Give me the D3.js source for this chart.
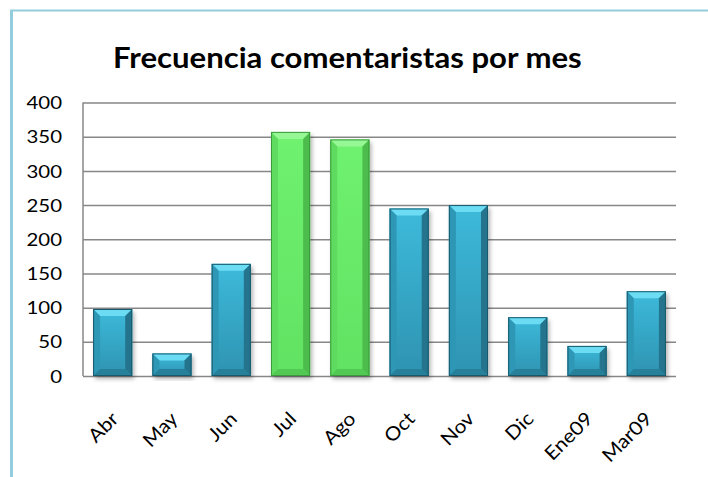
<!DOCTYPE html>
<html lang="es">
<head>
<meta charset="utf-8">
<script src="https://d3js.org/d3.v7.min.js"></script>
<style>
  body { margin: 0; background: #fff; }
  svg { display: block; }
  text { font-family: Lato, "Open Sans", sans-serif; fill: #000; }
</style>
</head>
<body>
<svg id="chart"></svg>
<script>
  const months = ["Abr", "May", "Jun", "Jul", "Ago", "Oct", "Nov", "Dic", "Ene09", "Mar09"];
  const counts = [98, 33, 164, 357, 346, 245, 250, 86, 44, 124];
  const yTicks = [0, 50, 100, 150, 200, 250, 300, 350, 400];
  const highlighted = ["Jul", "Ago"];

  const W = 708, H = 477;
  const plot = { left: 83, right: 676, top: 102.5, bottom: 376 };

  const svg = d3.select("#chart").attr("width", W).attr("height", H);

  // frame of the slide (only top and left edges visible)
  svg.append("line").attr("x1", 10).attr("x2", W).attr("y1", 10.5).attr("y2", 10.5)
    .attr("stroke", "#93cddd").attr("stroke-width", 2);
  svg.append("line").attr("x1", 11.5).attr("x2", 11.5).attr("y1", 10).attr("y2", H)
    .attr("stroke", "#93cddd").attr("stroke-width", 3);

  const defs = svg.append("defs");
  const shadow = defs.append("filter").attr("id", "shadow")
    .attr("x", "-20%").attr("y", "-10%").attr("width", "150%").attr("height", "130%");
  shadow.append("feDropShadow").attr("dx", 2).attr("dy", 3).attr("stdDeviation", 2)
    .attr("flood-color", "#000").attr("flood-opacity", 0.3);

  const palette = {
    blue: { top: "#3dbadb", bottom: "#2e93b1", cap: "#6bdcf3", left: "#2d97b5", right: "#23748c", foot: "#26809a", edge: "#185a6d" },
    green: { top: "#6ff26f", bottom: "#62e262", cap: "#95f895", left: "#5fdb5f", right: "#4cbd4c", foot: "#52c952", edge: "#3c9a3c" }
  };
  Object.entries(palette).forEach(([k, c]) => {
    const g = defs.append("linearGradient").attr("id", "body-" + k)
      .attr("x1", 0).attr("x2", 0).attr("y1", 0).attr("y2", 1);
    g.append("stop").attr("offset", "0%").attr("stop-color", c.top);
    g.append("stop").attr("offset", "100%").attr("stop-color", c.bottom);
  });

  const x = d3.scaleBand().domain(months).range([plot.left, plot.right])
    .paddingInner(0.34).paddingOuter(0.17);
  const y = d3.scaleLinear().domain([0, 400]).range([plot.bottom, plot.top]);

  // gridlines
  svg.append("g")
    .attr("transform", `translate(${plot.left},0)`)
    .call(d3.axisLeft(y).tickValues(yTicks).tickSize(-(plot.right - plot.left)).tickFormat(""))
    .call(g => g.select(".domain").remove())
    .call(g => g.selectAll("line").attr("stroke", "#878787").attr("stroke-width", 1.5));

  svg.append("line").attr("x1", plot.left).attr("x2", plot.left)
    .attr("y1", plot.top).attr("y2", plot.bottom)
    .attr("stroke", "#878787").attr("stroke-width", 1.5);

  // y labels
  const yAxis = svg.append("g")
    .attr("transform", `translate(62,0)`)
    .call(d3.axisLeft(y).tickValues(yTicks).tickSize(0).tickPadding(0))
    .call(g => g.select(".domain").remove());
  yAxis.selectAll("text")
    .attr("x", null).attr("dy", "0.36em")
    .attr("transform", "scale(1.2,1)")
    .style("font-size", "17px").style("font-family", "Lato, sans-serif").attr("fill", "#000");

  // bars with a bevel look
  const b = 7;
  const bars = svg.append("g").selectAll("g.bar")
    .data(months.map((m, i) => ({ month: m, value: counts[i] })))
    .join("g").attr("class", "bar");

  bars.each(function (d) {
    const g = d3.select(this);
    const k = highlighted.includes(d.month) ? "green" : "blue";
    const c = palette[k];
    const x0 = x(d.month), w = x.bandwidth();
    const y0 = y(d.value), h = y(0) - y0;
    const bb = Math.min(b, h / 2.5);
    g.append("rect").attr("x", x0).attr("y", y0).attr("width", w).attr("height", h)
      .attr("fill", `url(#body-${k})`).attr("filter", "url(#shadow)");
    const poly = pts => g.append("polygon").attr("points", pts.map(p => p.join(",")).join(" "));
    poly([[x0, y0], [x0 + w, y0], [x0 + w - bb, y0 + bb], [x0 + bb, y0 + bb]]).attr("fill", c.cap);
    poly([[x0, y0], [x0 + bb, y0 + bb], [x0 + bb, y0 + h - bb], [x0, y0 + h]]).attr("fill", c.left);
    poly([[x0 + w, y0], [x0 + w - bb, y0 + bb], [x0 + w - bb, y0 + h - bb], [x0 + w, y0 + h]]).attr("fill", c.right);
    poly([[x0, y0 + h], [x0 + bb, y0 + h - bb], [x0 + w - bb, y0 + h - bb], [x0 + w, y0 + h]]).attr("fill", c.foot);
    g.append("rect").attr("x", x0 + 0.5).attr("y", y0 + 0.5).attr("width", w - 1).attr("height", h - 1)
      .attr("fill", "none").attr("stroke", c.edge).attr("stroke-width", 1);
  });

  // x labels
  const xAxis = svg.append("g")
    .attr("transform", `translate(0,${plot.bottom})`)
    .call(d3.axisBottom(x).tickSize(0).tickPadding(0))
    .call(g => g.select(".domain").remove());
  xAxis.selectAll("text")
    .attr("y", null).attr("dy", null)
    .attr("text-anchor", "end")
    .attr("transform", "translate(7,44) rotate(-45) scale(1.1,1)")
    .style("font-size", "19px").style("font-family", "Lato, sans-serif").attr("fill", "#000");

  // title
  const title = svg.append("text")
    .attr("y", 68)
    .style("font-size", "29px").style("font-weight", "bold")
    .text("Frecuencia comentaristas por mes");
  const tw = title.node().getComputedTextLength();
  const sx = 469 / tw;
  title.attr("transform", `translate(113,0) scale(${sx},1)`);
</script>
</body>
</html>
